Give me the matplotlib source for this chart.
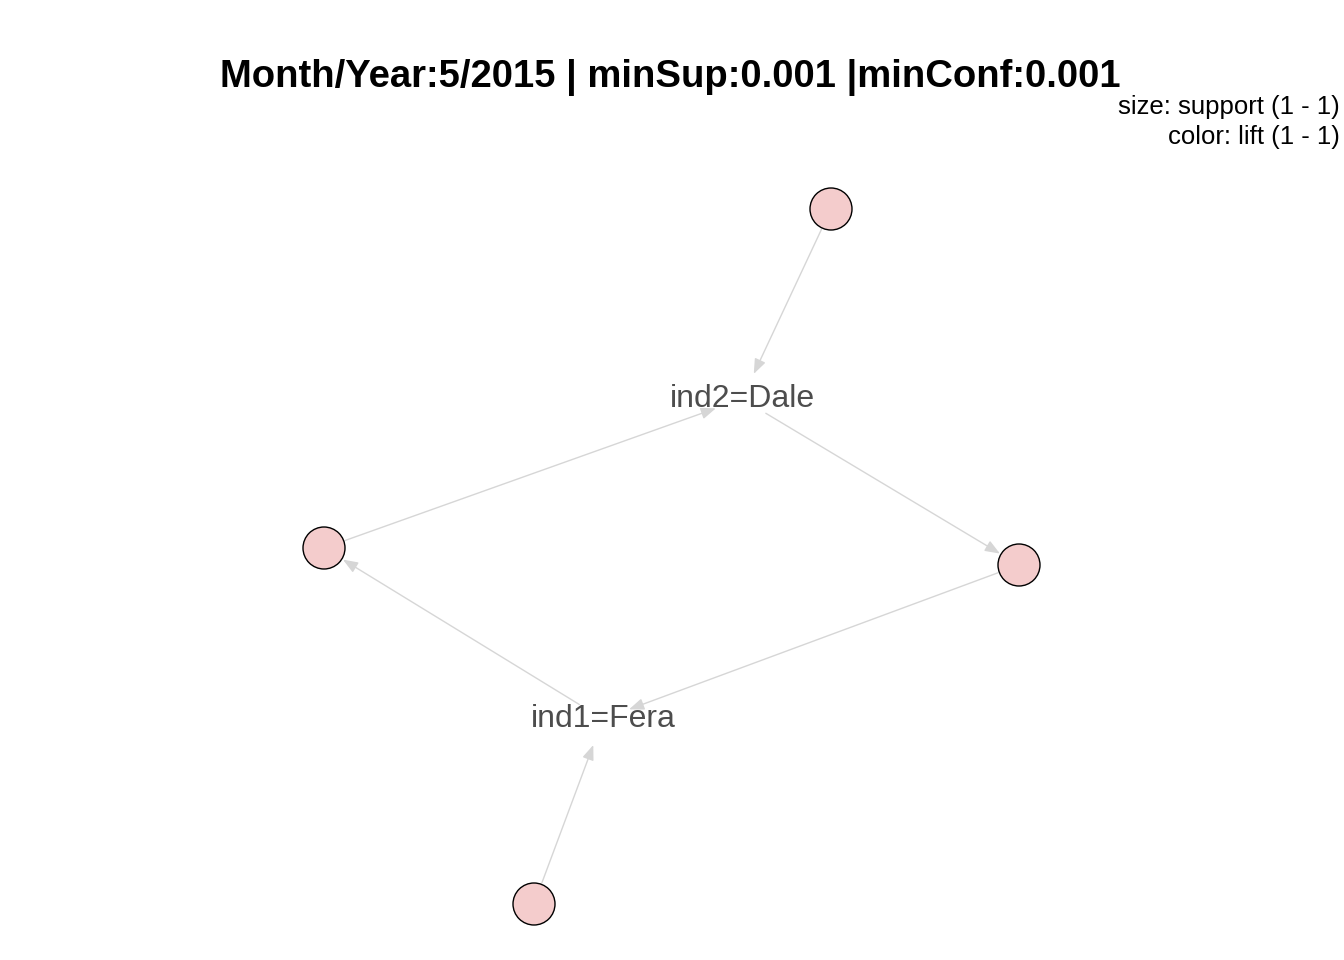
import matplotlib.pyplot as plt
from matplotlib.patches import FancyArrowPatch, Circle

plt.rcParams['font.family'] = ['Liberation Sans', 'DejaVu Sans']

# node layout (pixel coordinates of the graph layout)
rule_nodes = ["r1", "r2", "r3", "r4"]
rule_x = [831, 324, 1019, 534]
rule_y = [209, 548, 565, 904]
item_nodes = ["ind2=Dale", "ind1=Fera"]
item_x = [742, 603]
item_y = [399, 719]

# edges (source, target)
edges = [("r1", "ind2=Dale"), ("r2", "ind2=Dale"), ("ind2=Dale", "r3"),
         ("r3", "ind1=Fera"), ("ind1=Fera", "r2"), ("r4", "ind1=Fera")]

pos = {n: (x, y) for n, x, y in zip(rule_nodes, rule_x, rule_y)}
pos.update({n: (x, y) for n, x, y in zip(item_nodes, item_x, item_y)})

fig = plt.figure(figsize=(13.44, 9.6), dpi=100)
ax = fig.add_axes([0, 0, 1, 1])
ax.set_xlim(0, 1344)
ax.set_ylim(960, 0)
ax.axis("off")

for s, t in edges:
    sa = 16 if s in rule_nodes else 20
    sb = 16 if t in rule_nodes else 20
    ar = FancyArrowPatch(pos[s], pos[t], arrowstyle="-|>,head_length=9,head_width=3.5",
                         color="#d6d6d6", lw=1.0, shrinkA=sa, shrinkB=sb, zorder=1)
    ax.add_patch(ar)

for x, y in zip(rule_x, rule_y):
    ax.add_patch(Circle((x, y), 21, facecolor="#f4cccc", edgecolor="black", lw=1.0, zorder=2))

for n, x, y in zip(item_nodes, item_x, item_y):
    ax.text(x, y, n, ha="center", va="center", fontsize=23, color="#4d4d4d", zorder=3)

ax.text(670, 78, "Month/Year:5/2015 | minSup:0.001 |minConf:0.001", ha="center", va="center",
        fontsize=27.5, fontweight="bold")
ax.text(1340, 107, "size: support (1 - 1)", ha="right", va="center", fontsize=18.5)
ax.text(1340, 137, "color: lift (1 - 1)", ha="right", va="center", fontsize=18.5)

fig.savefig("out.png", dpi=100)
